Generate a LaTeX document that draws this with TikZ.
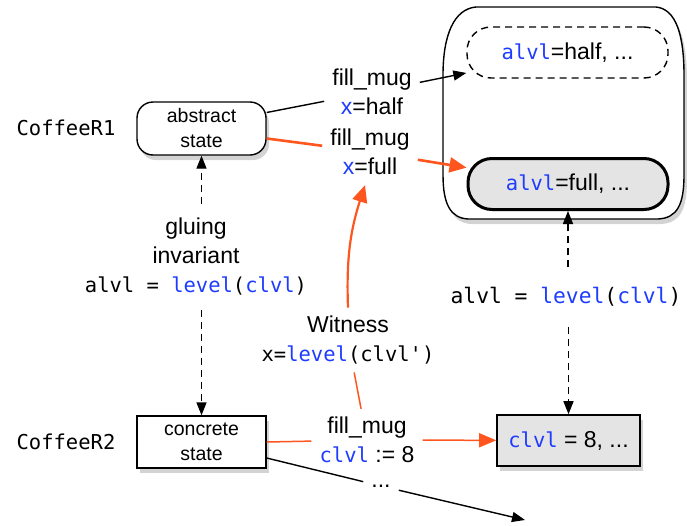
\documentclass[tikz,border=0pt]{standalone}
\usepackage{fontspec}
\setmainfont{Liberation Sans}
\setmonofont{DejaVu Sans Mono}
\usetikzlibrary{arrows.meta,shadows}
\definecolor{org}{RGB}{255,85,30}
\definecolor{kwc}{RGB}{30,60,255}
\definecolor{boxgray}{RGB}{228,228,228}
\newcommand{\kw}[1]{\textcolor{kwc}{#1}}
\newcommand{\mt}[1]{{\fontsize{20.5}{29}\selectfont\ttfamily #1}}
\newcommand{\mtb}[1]{{\fontsize{21.3}{29}\selectfont\ttfamily #1}}
\newcommand{\msp}{\hspace{0.6em}}
\begin{document}
\begin{tikzpicture}[x=1pt,y=-1pt,
  font=\fontsize{23}{29}\selectfont,
  lab/.style={align=center, inner sep=8pt},
  boxfont/.style={font=\fontsize{19.5}{25}\selectfont},
  sh/.style={drop shadow={opacity=0.35,shadow xshift=3pt,shadow yshift=-5pt}},
  blk/.style={line width=1.4pt,-{Triangle[length=13pt,width=10pt]}},
  blkline/.style={line width=1.4pt},
  orgarrow/.style={draw=org,line width=2.6pt,-{Triangle[length=17pt,width=15pt]},color=org},
  orgline/.style={draw=org,line width=2.6pt},
  orgthin/.style={draw=org,line width=1.5pt},
  dsh/.style={line width=1.4pt,dash pattern=on 7pt off 5pt},
  dtip/.style={-{Triangle[length=13pt,width=10pt]}}
]
\useasboundingbox (0,0) rectangle (687,525);

% mug
\path[draw,line width=1.4pt,fill=white,sh]
  (476,7) -- (656,7) .. controls (676,9) and (684,35) .. (684,75)
  -- (684,175) .. controls (684,205) and (677,218) .. (658,219)
  -- (468,219) .. controls (451,218) and (443,205) .. (443,175)
  -- (443,75) .. controls (443,35) and (454,9) .. (476,7) -- cycle;

\node[draw,dsh,rounded corners=24pt,minimum width=201pt,minimum height=51pt,inner sep=0pt]
  (half) at (567.5,52.5) {\mt{\kw{alvl}}=half, ...};
\node[draw,line width=3pt,fill=boxgray,rounded corners=24pt,minimum width=200pt,minimum height=51pt,inner sep=0pt]
  (full) at (568,184) {\mt{\kw{alvl}}=full, ...};

% states
\node[boxfont,draw,line width=1.4pt,fill=white,rounded corners=16pt,sh,align=center,
  minimum width=129pt,minimum height=53pt,inner sep=0pt] (abs) at (201.5,128.5) {abstract\\state};
\node[boxfont,draw,line width=1.4pt,fill=white,sh,align=center,
  minimum width=129pt,minimum height=52pt,inner sep=0pt] (conc) at (201.5,442) {concrete\\state};
\node[draw,line width=1.6pt,fill=boxgray,sh,
  minimum width=143pt,minimum height=51pt,inner sep=0pt] (cl) at (568.5,440.5) {\mt{\kw{clvl}} = 8, ...};

\node (r1) at (66,128) {\mt{CoffeeR1}};
\node (r2) at (66,442) {\mt{CoffeeR2}};

% labels
\node[lab] (l1) at (372,92) {fill\_mug\\\kw{x}=half};
\node[lab] (l2) at (370,152) {fill\_mug\\\kw{x}=full};
\node[lab,inner ysep=14pt] (glue) at (196,257) {gluing\\invariant\\\mt{alvl\msp=\msp\kw{level}(\kw{clvl})}};
\node[lab,inner ysep=20pt] (rl) at (566,297) {\mtb{alvl\msp=\msp\kw{level}(\kw{clvl})}};
\node[lab] (wit) at (348,340) {Witness\\\mt{x=\kw{level}(clvl')}};
\node[lab] (l3) at (367,440) {fill\_mug\\\mt{\kw{clvl}} := 8};
\node[inner sep=8pt] (dots) at (381,486) {...};
\coordinate (dend) at (525,520);

% connectors
\draw[blkline] ([yshift=16pt]abs.east) -- (l1);
\draw[blk] (l1) -- (half);
\draw[orgline] ([yshift=-10pt]abs.east) -- (l2);
\draw[orgarrow] (l2) -- (full);

\draw[dsh,dtip] (glue.north -| abs.south) -- (abs);
\draw[dsh,dtip] (glue.south -| conc.north) -- (conc);
\draw[dsh,dtip] (rl.north -| full.south) -- (full);
\draw[dsh,dtip] (rl.south -| cl.north) -- (cl);

\draw[orgthin] (conc.east) -- (l3);
\draw[orgthin,-{Triangle[length=17pt,width=14pt]},color=org] (l3) -- (cl);
\draw[orgthin] (l3) -- (wit);
\draw[draw=org,line width=2.2pt,-{Triangle[length=17pt,width=15pt]},color=org] (wit.north) to[bend left=10] ([xshift=-5pt,yshift=-2pt]l2.south);

\draw[blkline] ([yshift=-16pt]conc.east) -- (dots);
\draw[blk] (dots) -- (dend);
\end{tikzpicture}
\end{document}
